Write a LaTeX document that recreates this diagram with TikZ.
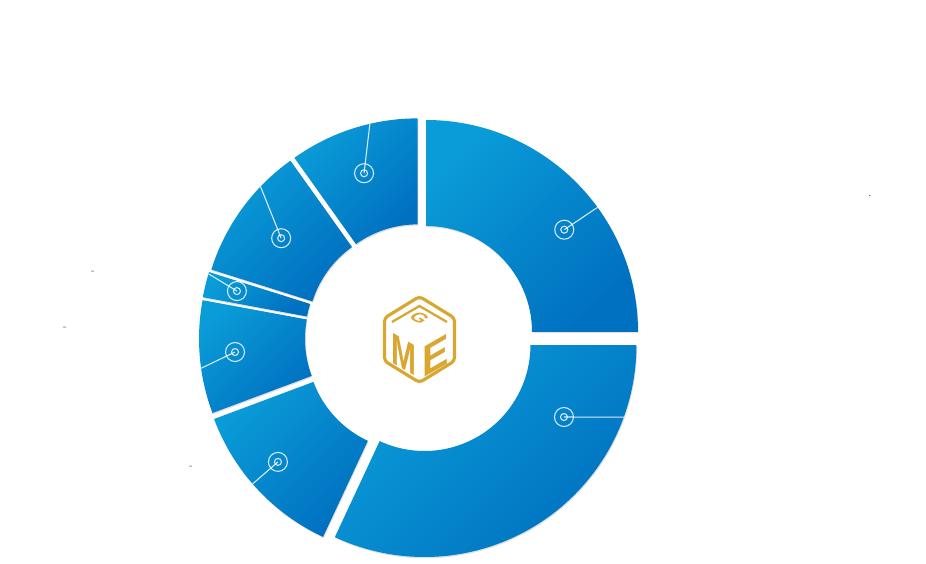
\documentclass[tikz,border=0pt]{standalone}
\usepackage{fontspec}
\usepackage{tikz}
\usetikzlibrary{calc}
\usetikzlibrary{shadows}

\newfontfamily\logofont{Liberation Sans}

\definecolor{seglight}{HTML}{0A9CD8}
\definecolor{segdark}{HTML}{0070C0}
\definecolor{gold}{HTML}{D9A630}

\tikzstyle{seg} = [top color=seglight,
bottom color=segdark,
shading angle=45,
drop shadow={opacity=0.25, shadow xshift=0.4pt, shadow yshift=-0.7pt}]
\tikzstyle{ring} = [circle, draw=white, line width=0.6pt, minimum size=0.38cm, inner sep=0pt, opacity=0.85]
\tikzstyle{hub} = [circle, draw=white, line width=0.6pt, minimum size=0.14cm, inner sep=0pt, opacity=0.85]
\tikzstyle{leader} = [draw=white, line width=0.6pt, opacity=0.85]
\tikzstyle{letter} = [text=gold, font=\logofont\bfseries\fontsize{25}{25}\selectfont, transform shape, inner sep=0pt]
\tikzstyle{stray} = [font=\tiny, text=black!60, inner sep=0pt]

\begin{document}
\begin{tikzpicture}
    \path[fill=white, use as bounding box] (-8.4,-4.52) rectangle (10.12,6.76);

    % segment centres, each pushed out along its bisector
    \coordinate (cA) at (45:0.17);
    \coordinate (cB) at (-57.5:0.166);
    \coordinate (cC) at (-137.25:0.2);
    \coordinate (cD) at (185:0.18);
    \coordinate (cE) at (166:0.18);
    \coordinate (cF) at (144:0.16);
    \coordinate (cG) at (107.75:0.16);

    % segments
    \path[seg] ($(cB)+(-115:2.12)$) arc[start angle=-115, end angle=0, radius=2.12cm] -- ($(cB)+(0:4.24)$) arc[start angle=0, end angle=-115, radius=4.24cm] -- cycle;
    \path[seg] ($(cC)+(-159.5:2.12)$) arc[start angle=-159.5, end angle=-115, radius=2.12cm] -- ($(cC)+(-115:4.24)$) arc[start angle=-115, end angle=-159.5, radius=4.24cm] -- cycle;
    \path[seg] ($(cD)+(169.5:2.12)$) arc[start angle=169.5, end angle=200.5, radius=2.12cm] -- ($(cD)+(200.5:4.24)$) arc[start angle=200.5, end angle=169.5, radius=4.24cm] -- cycle;
    \path[seg] ($(cE)+(162.5:2.12)$) arc[start angle=162.5, end angle=169.5, radius=2.12cm] -- ($(cE)+(169.5:4.24)$) arc[start angle=169.5, end angle=162.5, radius=4.24cm] -- cycle;
    \path[seg] ($(cF)+(125.5:2.12)$) arc[start angle=125.5, end angle=162.5, radius=2.12cm] -- ($(cF)+(162.5:4.24)$) arc[start angle=162.5, end angle=125.5, radius=4.24cm] -- cycle;
    \path[seg] ($(cG)+(90:2.12)$) arc[start angle=90, end angle=125.5, radius=2.12cm] -- ($(cG)+(125.5:4.24)$) arc[start angle=125.5, end angle=90, radius=4.24cm] -- cycle;
    \path[seg] ($(cA)+(0:2.12)$) arc[start angle=0, end angle=90, radius=2.12cm] -- ($(cA)+(90:4.24)$) arc[start angle=90, end angle=0, radius=4.24cm] -- cycle;

    % markers
    \node (rA) [ring] at ($(cA)+(36.5:3.44)$) {};
    \node (mA) [hub] at (rA) {};
    \coordinate (eA) at ($(cA)+(36:4.24)$);
    \node (rB) [ring] at ($(cB)+(-27.3:3.14)$) {};
    \node (mB) [hub] at (rB) {};
    \coordinate (eB) at ($(cB)+(-19.9:4.24)$);
    \node (rC) [ring] at ($(cC)+(-139:3.57)$) {};
    \node (mC) [hub] at (rC) {};
    \coordinate (eC) at ($(cC)+(-139:4.24)$);
    \node (rD) [ring] at ($(cD)+(184.3:3.53)$) {};
    \node (mD) [hub] at (rD) {};
    \coordinate (eD) at ($(cD)+(188:4.24)$);
    \node (rE) [ring] at ($(cE)+(165.6:3.6)$) {};
    \node (mE) [hub] at (rE) {};
    \coordinate (eE) at ($(cE)+(163:4.24)$);
    \node (rF) [ring] at ($(cF)+(144.3:3.26)$) {};
    \node (mF) [hub] at (rF) {};
    \coordinate (eF) at ($(cF)+(136.2:4.24)$);
    \node (rG) [ring] at ($(cG)+(108.8:3.32)$) {};
    \node (mG) [hub] at (rG) {};
    \coordinate (eG) at ($(cG)+(103:4.24)$);

    \draw [leader] (mA.center) -- (eA);
    \draw [leader] (mB.center) -- (eB);
    \draw [leader] (mC.center) -- (eC);
    \draw [leader] (mD.center) -- (eD);
    \draw [leader] (mE.center) -- (eE);
    \draw [leader] (mF.center) -- (eF);
    \draw [leader] (mG.center) -- (eG);

    % logo
    \begin{scope}[shift={(-0.01,-0.03)}]
        \draw [gold, line width=1.8pt, rounded corners=2pt] (0,0.86) -- (0.7,0.43) -- (0.7,-0.43) -- (0,-0.86) -- (-0.7,-0.43) -- (-0.7,0.43) -- cycle;
        \draw [gold, line width=1.3pt] (-0.55,0.35) -- (0,0.67) -- (0.55,0.35);
        \begin{scope}[cm={0.36,-0.21,0.36,0.21,(0,0.43)}]
            \node (lG) [letter] {G};
        \end{scope}
        \begin{scope}[cm={0.68,-0.39,0,1,(-0.32,-0.3)}]
            \node (lM) [letter] {M};
        \end{scope}
        \begin{scope}[cm={0.9,0.52,0,1,(0.33,-0.32)}]
            \node (lE) [letter] {E};
        \end{scope}
    \end{scope}

    % stray marks
    \node (t1) [stray] at (-6.54,1.32) {-};
    \node (t2) [stray] at (-7.1,0.2) {-};
    \node (t3) [stray] at (-4.58,-2.58) {-};
    \node (t4) [stray, text=black] at (9.0,2.84) {.};
\end{tikzpicture}
\end{document}
